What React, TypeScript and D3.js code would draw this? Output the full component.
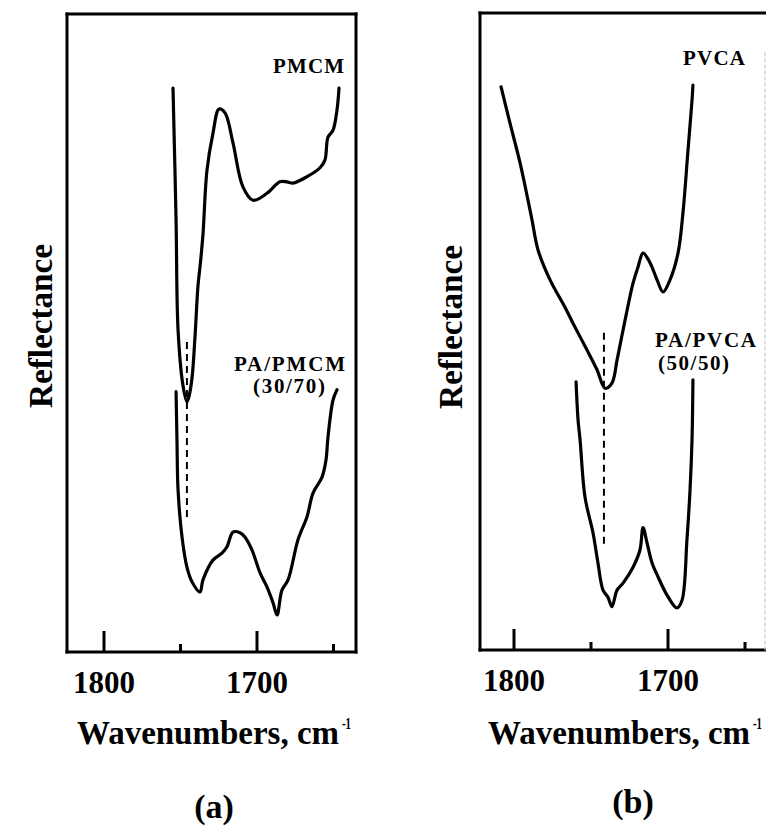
import React from 'react';
import * as d3 from 'd3';

// wavenumber (cm-1) and reflectance (a.u., 0 = bottom of frame, 100 = top)
const pmcmWave = [1754.9, 1752.9, 1751.6, 1748.4, 1745.8, 1744.5, 1742.5, 1740.5, 1738.6, 1736.9, 1735.3, 1732.7, 1728.8, 1724.8, 1720.9, 1715.7, 1709.2, 1702.6, 1693.5, 1685.0, 1680.4, 1676.5, 1667.3, 1658.8, 1655.6, 1653.6, 1650.3, 1647.7, 1646.4];
const pmcmRefl = [88.4, 67.7, 50.5, 41.8, 39.2, 40.0, 42.9, 49.5, 57.3, 61.2, 65.5, 75.5, 81.3, 85.1, 84.5, 79.8, 72.9, 70.8, 71.9, 73.7, 73.7, 73.5, 74.5, 75.9, 77.1, 80.7, 81.8, 85.0, 88.4];

const blendAWave = [1752.9, 1752.3, 1751.6, 1749.0, 1745.8, 1742.5, 1737.3, 1735.3, 1728.8, 1722.9, 1719.6, 1715.7, 1711.1, 1707.8, 1703.3, 1698.0, 1693.5, 1689.5, 1686.9, 1683.7, 1679.7, 1673.2, 1667.3, 1663.4, 1657.5, 1654.9, 1653.6, 1650.3, 1647.7];
const blendARefl = [40.8, 33.2, 25.4, 18.0, 13.3, 11.0, 9.4, 11.3, 14.4, 15.5, 16.5, 18.8, 18.7, 18.0, 16.0, 12.4, 10.2, 7.7, 5.8, 9.7, 11.3, 17.6, 21.2, 24.9, 27.4, 30.1, 33.7, 39.5, 41.1];

const pvcaWave = [1808.4, 1802.6, 1796.1, 1790.9, 1788.3, 1784.4, 1776.6, 1766.9, 1761.7, 1752.6, 1746.1, 1740.9, 1736.4, 1733.1, 1729.2, 1722.7, 1719.5, 1716.2, 1711.7, 1707.1, 1703.2, 1698.7, 1693.5, 1690.3, 1687.0, 1684.4, 1683.8];
const pvcaRefl = [88.4, 82.7, 76.5, 70.6, 67.5, 62.8, 58.1, 53.8, 51.3, 47.1, 44.0, 41.1, 41.9, 45.5, 50.2, 57.6, 60.1, 62.3, 60.8, 58.1, 56.2, 58.1, 62.3, 68.6, 78.5, 86.3, 88.7];

const blendBWave = [1759.7, 1758.4, 1757.1, 1753.9, 1748.7, 1745.5, 1742.2, 1739.0, 1736.4, 1733.1, 1729.2, 1722.7, 1718.2, 1716.2, 1713.6, 1710.4, 1706.5, 1700.6, 1694.2, 1690.9, 1687.7, 1685.7, 1684.4, 1683.8];
const blendBRefl = [42.1, 36.1, 33.0, 24.0, 18.4, 13.7, 9.4, 8.3, 6.8, 9.4, 10.5, 13.0, 15.7, 19.2, 16.8, 13.7, 11.5, 8.6, 6.6, 7.8, 17.3, 25.1, 33.0, 42.4];

// carbonyl peak markers (dashed)
const markA = { wave: 1745.8, from: 21.0, to: 48.6 };
const markB = { wave: 1741.6, from: 16.0, to: 49.8 };

const majorTicks = [1800, 1700];
const minorTicks = [1750, 1650];

const font = '"Liberation Serif", "Times New Roman", serif';

const zip = (w: number[], r: number[]) => w.map((v, i) => [v, r[i]] as [number, number]);

function Panel(props: any) {
  const { left, right, top, bottom, xTickRange, curves, mark, labels, letter, titleX, reflX, reflY, letterX, letterY, openRight } = props;
  const x = d3.scaleLinear().domain([1800, 1700]).range(xTickRange);
  const y = d3.scaleLinear().domain([0, 100]).range([bottom, top]);
  const line = d3.line<[number, number]>()
    .x(d => x(d[0]))
    .y(d => y(d[1]))
    .curve(d3.curveCatmullRom.alpha(0.5));

  return (
    <g>
      {/* frame */}
      <g stroke="#000" strokeWidth={3} fill="none" strokeLinecap="square">
        <line x1={left} y1={top} x2={right} y2={top} />
        <line x1={left} y1={bottom} x2={right} y2={bottom} />
        <line x1={left} y1={top} x2={left} y2={bottom} />
        {openRight
          ? <line x1={right - 1} y1={top + 40} x2={right - 1} y2={bottom} stroke="#bbb" strokeWidth={1} strokeDasharray="3,3" />
          : <line x1={right} y1={top} x2={right} y2={bottom} />}
      </g>
      {majorTicks.map(t => (
        <g key={t}>
          <line x1={x(t)} x2={x(t)} y1={bottom} y2={bottom - 21} stroke="#000" strokeWidth={3} />
          <text x={x(t) - 31} y={bottom + 41} fontFamily={font} fontWeight="bold" fontSize={32}
            textLength={62} lengthAdjust="spacingAndGlyphs">{t}</text>
        </g>
      ))}
      {minorTicks.map(t => (
        <line key={t} x1={x(t)} x2={x(t)} y1={bottom} y2={bottom - 8} stroke="#000" strokeWidth={3} />
      ))}
      {curves.map((c: [number, number][], i: number) => (
        <path key={i} d={line(c) || ''} fill="none" stroke="#000" strokeWidth={3.2} strokeLinejoin="round" strokeLinecap="round" />
      ))}
      <line x1={x(mark.wave)} x2={x(mark.wave)} y1={y(mark.to)} y2={y(mark.from)} stroke="#000" strokeWidth={2} strokeDasharray="7,5" />
      {labels.map((l: any, i: number) => (
        <text key={i} x={l.x} y={l.y} fontFamily={font} fontWeight="bold" fontSize={21}
          textLength={l.w} lengthAdjust="spacing">{l.text}</text>
      ))}
      <text transform={`translate(${reflX},${reflY}) rotate(-90)`} x={-82} fontFamily={font} fontWeight="bold" fontSize={33}
        textLength={164} lengthAdjust="spacingAndGlyphs">Reflectance</text>
      <text x={titleX} y={744} fontFamily={font} fontWeight="bold" fontSize={34}
        textLength={262} lengthAdjust="spacingAndGlyphs">Wavenumbers, cm</text>
      <text x={titleX + 265} y={729} fontFamily={font} fontWeight="bold" fontSize={17}
        textLength={9} lengthAdjust="spacingAndGlyphs">-1</text>
      <text x={letterX} y={letterY} textAnchor="middle" fontFamily={font} fontWeight="bold" fontSize={34}>{letter}</text>
    </g>
  );
}

export default function App() {
  return (
    <svg width={766} height={834} style={{ position: 'absolute', left: 0, top: 0, background: '#fff' }}>
      <rect width={766} height={834} fill="#fff" />
      <Panel
        left={67} right={356} top={14} bottom={652}
        xTickRange={[104, 257]}
        curves={[zip(pmcmWave, pmcmRefl), zip(blendAWave, blendARefl)]}
        mark={markA}
        labels={[
          { text: 'PMCM', x: 273, y: 73, w: 71 },
          { text: 'PA/PMCM', x: 234, y: 371, w: 111 },
          { text: '(30/70)', x: 253, y: 393, w: 72 },
        ]}
        letter="(a)" titleX={77} reflX={52} reflY={326} letterX={214} letterY={818}
      />
      <Panel
        left={480} right={766} top={13} bottom={650}
        xTickRange={[514, 668]}
        curves={[zip(pvcaWave, pvcaRefl), zip(blendBWave, blendBRefl)]}
        mark={markB}
        labels={[
          { text: 'PVCA', x: 683, y: 65, w: 62 },
          { text: 'PA/PVCA', x: 655, y: 347, w: 101 },
          { text: '(50/50)', x: 658, y: 370, w: 71 },
        ]}
        letter="(b)" titleX={488} reflX={462} reflY={327} letterX={633} letterY={813}
        openRight
      />
    </svg>
  );
}
